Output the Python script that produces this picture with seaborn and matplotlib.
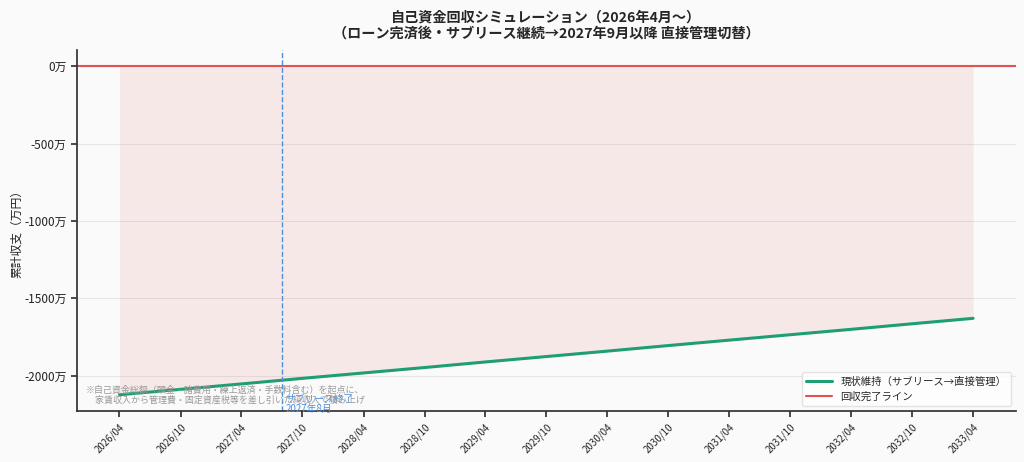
import pandas as pd
import matplotlib.pyplot as plt
import matplotlib.dates as mdates
import matplotlib.ticker as mticker
import seaborn as sns

# 半年ごとの累計収支（万円）
months = ['2026-04', '2026-10', '2027-04', '2027-10', '2028-04', '2028-10', '2029-04',
          '2029-10', '2030-04', '2030-10', '2031-04', '2031-10', '2032-04', '2032-10', '2033-04']
cumulative = [-2123, -2088, -2053, -2017, -1982, -1947, -1911,
              -1876, -1841, -1805, -1770, -1735, -1700, -1664, -1629]
series_label = '現状維持（サブリース→直接管理）'
zero_label = '回収完了ライン'
switch_date = '2027-08-01'
switch_text = 'サブリース終了\n2027年8月'
note_text = ('※自己資金総額（頭金・諸費用・繰上返済・手数料含む）を起点に、\n'
             '　家賃収入から管理費・固定資産税等を差し引いた純収入で積み上げ')

df = pd.DataFrame({'date': pd.to_datetime(months), 'cum': cumulative})

sns.set_theme(style="whitegrid")
plt.rcParams['font.family'] = ['Noto Sans CJK JP', 'DejaVu Sans']
plt.rcParams['axes.unicode_minus'] = False

green = '#1f9e74'
red = '#e35252'
blue = '#4a90e2'

fig, ax = plt.subplots(figsize=(10.24, 4.62), dpi=100)
fig.patch.set_facecolor('#fafafa')
ax.set_facecolor('#fafafa')

ax.fill_between(df['date'], df['cum'], 0, color=red, alpha=0.1, linewidth=0)
sns.lineplot(data=df, x='date', y='cum', ax=ax, color=green, linewidth=2.2, label=series_label)
ax.axhline(0, color=red, linewidth=1.5, label=zero_label)
ax.axvline(pd.Timestamp(switch_date), color=blue, linestyle='--', linewidth=1)
ax.text(pd.Timestamp(switch_date) + pd.Timedelta(days=10), -2115, switch_text,
        color=blue, fontsize=7, va='top', ha='left', linespacing=1.05)
ax.text(0.01, 0.017, note_text, transform=ax.transAxes, color='#999999',
        fontsize=6.5, va='bottom', ha='left', linespacing=1.15)

ax.xaxis.set_major_locator(mdates.MonthLocator(bymonth=[4, 10]))
ax.xaxis.set_major_formatter(mdates.DateFormatter('%Y/%m'))
ax.yaxis.set_major_formatter(mticker.FuncFormatter(lambda v, p: f'{v:.0f}万'))
plt.setp(ax.get_xticklabels(), rotation=45, ha='right', rotation_mode='anchor', fontsize=7)
ax.tick_params(axis='y', labelsize=8.5, labelcolor='#222222')
ax.tick_params(axis='both', which='major', length=4, color='#333333', bottom=True, left=True)

ax.grid(axis='x', visible=False)
ax.grid(axis='y', color='#e6e6e6', linewidth=0.8)
sns.despine(ax=ax)
ax.spines['left'].set_color('#333333')
ax.spines['bottom'].set_color('#333333')

ax.set_xlabel('')
ax.set_ylabel('累計収支（万円）', fontsize=8.5, labelpad=1, color='#222222')
ax.set_title('自己資金回収シミュレーション（2026年4月～）\n（ローン完済後・サブリース継続→2027年9月以降 直接管理切替）',
             fontsize=10.2, fontweight='bold', pad=9)
ax.legend(loc='lower right', fontsize=7.5, frameon=True, facecolor='white', edgecolor='#dddddd',
          handlelength=2.5)

plt.subplots_adjust(left=0.075, right=0.992, top=0.892, bottom=0.11)
plt.savefig('out.png', dpi=100, facecolor=fig.get_facecolor())
